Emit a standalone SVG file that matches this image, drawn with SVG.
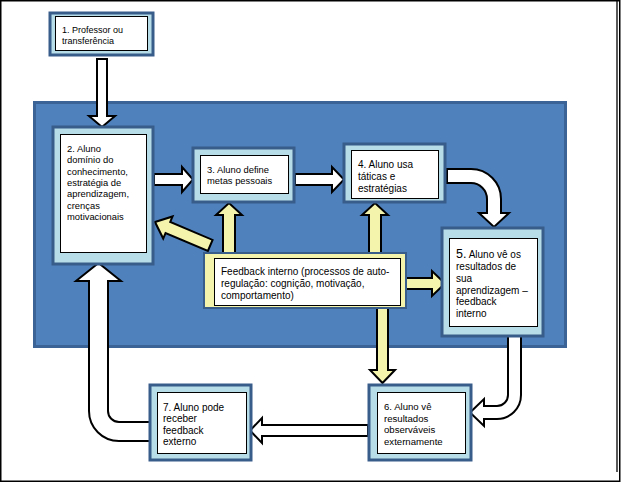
<svg xmlns="http://www.w3.org/2000/svg" width="622" height="499" viewBox="0 0 622 499">
<style>
  .t { font-family: "Liberation Sans", Arial, sans-serif; font-size: 10px; fill: #000; }
  .outer { fill: #B7DDE8; stroke: #385D8A; stroke-width: 3; }
  .inner { fill: #fff; stroke: #000; stroke-width: 1; }
  .wa { fill: #fff; stroke: #000; stroke-width: 2; stroke-linejoin: miter; }
  .ya { fill: #F4F4AC; stroke: #000; stroke-width: 2; stroke-linejoin: miter; }
</style>
<rect x="0" y="0" width="622" height="499" fill="#fff"/>
<rect x="0.75" y="0.75" width="619" height="480.5" fill="none" stroke="#000" stroke-width="1.5"/>
<line x1="617" y1="0" x2="617" y2="472" stroke="#000" stroke-width="1.3"/>
<rect id="background" x="34.5" y="102.5" width="531" height="244" fill="#4F81BD" stroke="#3B6396" stroke-width="3"/>

<g id="connectors">
  <polygon class="wa" points="97,59 107,59 107,116 115,116 102,127 89,116 97,116"/>
  <polygon class="wa" points="154,174 182,174 182,167 193,179.5 182,192 182,185 154,185"/>
  <polygon class="wa" points="295,174 332,174 332,167 344,179.5 332,192 332,185 295,185"/>
  <path class="wa" d="M447,169 L471,169 A30,30 0 0 1 501,199 L501,213 L509,213 L494,227 L479,213 L487,213 L487,199 A16,16 0 0 0 471,183 L447,183 Z"/>
  <path class="wa" d="M508,336 L521,336 L521,395 A24,24 0 0 1 497,419 L484,419 L484,426 L470,412.5 L484,399 L484,406 L497,406 A11,11 0 0 0 508,395 Z"/>
  <polygon class="wa" points="368,425 262,425 262,418 250,430.5 262,443 262,436 368,436"/>
  <path class="wa" d="M150,422 L119,422 A11,11 0 0 1 108,411 L108,281 L121,281 L98.5,263 L76,281 L89,281 L89,411 A30,30 0 0 0 119,441 L150,441 Z"/>
  <polygon class="ya" points="223,253 223,215 216,215 229,203 242,215 235,215 235,253"/>
  <polygon class="ya" points="369,253 369,215 362,215 375,203 388,215 381,215 381,253"/>
  <polygon class="ya" points="406,278 432,278 432,271 445,283.5 432,296 432,289 406,289"/>
  <polygon class="ya" points="377,308 388,308 388,370 395,370 382.5,383 370,370 377,370"/>
  <polygon class="ya" transform="translate(155,222) rotate(23)" points="0,0 14,-12 14,-6 60,-6 60,6 14,6 14,12"/>
</g>

<g id="node1">
  <rect class="outer" x="50" y="13" width="103" height="42"/>
  <rect class="inner" x="55.5" y="16.5" width="92" height="34"/>
  <text class="t" style="font-size:9px"><tspan x="62" y="33">1. Professor ou</tspan><tspan x="62" y="44">transferência</tspan></text>
</g>

<g id="node2">
  <rect class="outer" x="53" y="127" width="100" height="137"/>
  <rect class="inner" x="60.5" y="134.5" width="86" height="118"/>
  <text class="t" style="font-size:9.4px">
    <tspan x="67" y="152">2. Aluno</tspan>
    <tspan x="67" y="163.3">domínio do</tspan>
    <tspan x="67" y="174.6">conhecimento,</tspan>
    <tspan x="67" y="185.9">estratégia de</tspan>
    <tspan x="67" y="197.2">aprendizagem,</tspan>
    <tspan x="67" y="208.5">crenças</tspan>
    <tspan x="67" y="219.8">motivacionais</tspan>
  </text>
</g>

<g id="node3">
  <rect class="outer" x="193" y="148" width="101" height="54"/>
  <rect class="inner" x="200.5" y="155.5" width="88" height="38"/>
  <text class="t" style="font-size:9.4px"><tspan x="207" y="173">3. Aluno define</tspan><tspan x="207" y="184.3">metas pessoais</tspan></text>
</g>

<g id="node4">
  <rect class="outer" x="344" y="144" width="101" height="58"/>
  <rect class="inner" x="351.5" y="150.5" width="87" height="48"/>
  <text class="t"><tspan x="358" y="168">4. Aluno usa</tspan><tspan x="358" y="180">táticas e</tspan><tspan x="358" y="192">estratégias</tspan></text>
</g>

<g id="node5">
  <rect class="outer" x="442" y="228" width="101" height="108"/>
  <rect class="inner" x="449.5" y="238.5" width="88" height="88"/>
  <text class="t">
    <tspan x="456" y="257.5"><tspan style="font-size:12.5px">5.</tspan> Aluno vê os</tspan>
    <tspan x="456" y="270">resultados de</tspan>
    <tspan x="456" y="281.5">sua</tspan>
    <tspan x="456" y="293.5">aprendizagem –</tspan>
    <tspan x="456" y="305">feedback</tspan>
    <tspan x="456" y="316.5">interno</tspan>
  </text>
</g>

<g id="feedback">
  <rect x="204" y="253" width="202" height="55" fill="#F4F4AC" stroke="#385D8A" stroke-width="2"/>
  <rect class="inner" x="214.5" y="258.5" width="186" height="47"/>
  <text class="t"><tspan x="221" y="275">Feedback interno (processos de auto-</tspan><tspan x="221" y="287">regulação: cognição, motivação,</tspan><tspan x="221" y="298.5">comportamento)</tspan></text>
</g>

<g id="node6">
  <rect class="outer" x="369" y="385" width="102" height="75"/>
  <rect class="inner" x="377.5" y="392.5" width="88" height="61"/>
  <text class="t" style="font-size:9.6px"><tspan x="384" y="410">6. Aluno vê</tspan><tspan x="384" y="421.5">resultados</tspan><tspan x="384" y="433">observáveis</tspan><tspan x="384" y="444.5">externamente</tspan></text>
</g>

<g id="node7">
  <rect class="outer" x="150" y="385" width="101" height="75"/>
  <rect class="inner" x="157.5" y="392.5" width="89" height="61"/>
  <text class="t"><tspan x="163" y="411">7. Aluno pode</tspan><tspan x="163" y="422">receber</tspan><tspan x="163" y="433.5">feedback</tspan><tspan x="163" y="444.5">externo</tspan></text>
</g>
</svg>
